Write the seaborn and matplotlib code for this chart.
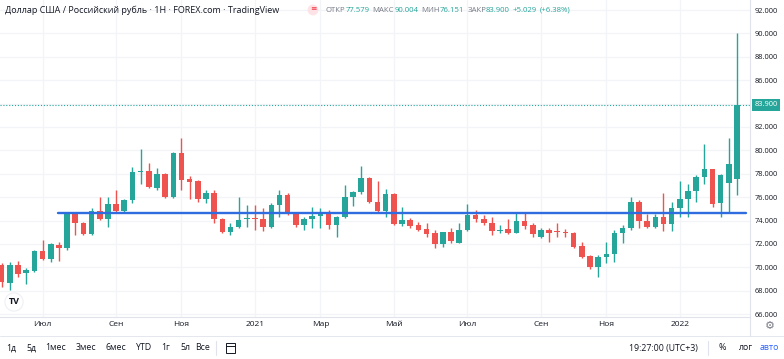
import pandas as pd
import matplotlib
matplotlib.use("Agg")
import matplotlib.pyplot as plt
import matplotlib.transforms as mtransforms
from matplotlib.lines import Line2D
from matplotlib.patches import Rectangle
import seaborn as sns

# === 1. Data: weekly USD/RUB candles (FOREX.com), Jun 2020 - Feb 2022 ===
week_start = pd.date_range("2020-06-01", periods=91, freq="W-MON")

opens = [70.21, 68.67, 70.21, 69.52, 69.69, 71.40, 70.72, 71.92, 71.66, 74.56,
         73.80, 72.86, 74.82, 74.14, 75.42, 74.82, 75.76, 78.15, 78.24, 76.79,
         77.98, 76.02, 79.78, 77.56, 77.39, 75.85, 76.36, 74.14, 73.03, 73.45,
         74.10, 74.18, 74.14, 73.45, 75.33, 76.19, 74.65, 73.62, 74.14, 74.39,
         74.65, 73.62, 74.31, 76.02, 76.45, 77.64, 75.59, 74.82, 76.27, 73.71,
         74.05, 73.62, 73.28, 72.94, 72.00, 73.03, 72.09, 73.20, 74.48, 74.14,
         73.80, 73.15, 73.28, 72.94, 73.97, 73.62, 72.60, 73.20, 73.05, 72.98,
         72.94, 71.83, 70.98, 70.03, 70.89, 71.15, 72.94, 73.37, 75.59, 73.97,
         73.45, 74.31, 73.71, 75.08, 75.85, 76.53, 77.73, 78.41, 75.51, 77.21,
         77.579]
highs = [70.38, 70.46, 70.55, 69.95, 71.45, 72.34, 72.09, 72.17, 74.65, 74.65,
         73.88, 75.08, 76.02, 76.02, 76.62, 75.85, 78.58, 80.12, 78.92, 78.50,
         78.07, 79.85, 81.06, 77.81, 77.47, 76.62, 76.62, 74.20, 73.80, 76.02,
         75.33, 75.33, 75.08, 75.51, 76.62, 76.36, 74.74, 74.31, 75.16, 75.08,
         74.91, 74.39, 77.04, 76.50, 78.67, 77.73, 77.39, 76.70, 76.36, 75.16,
         74.22, 73.88, 73.80, 73.20, 73.05, 73.37, 73.80, 75.42, 74.91, 74.48,
         74.31, 73.62, 74.14, 74.65, 74.65, 73.80, 73.37, 73.37, 73.80, 73.28,
         73.03, 72.17, 71.06, 71.06, 72.17, 73.20, 73.62, 76.02, 75.76, 74.56,
         74.56, 76.36, 75.59, 77.39, 77.13, 77.90, 80.55, 78.45, 77.95, 81.06,
         90.004]
lows = [68.33, 68.07, 69.18, 68.58, 69.61, 70.63, 70.46, 70.55, 71.49, 72.77,
        72.77, 72.77, 74.05, 73.45, 74.74, 74.74, 75.51, 77.13, 76.79, 76.62,
        75.93, 75.95, 76.62, 75.85, 75.59, 75.51, 73.80, 72.94, 72.77, 73.40,
        73.45, 73.20, 73.11, 73.37, 74.31, 74.48, 73.45, 73.20, 73.37, 73.37,
        73.28, 72.60, 74.22, 75.25, 76.27, 75.51, 74.74, 74.31, 73.62, 73.54,
        73.37, 73.11, 72.60, 71.66, 71.74, 72.09, 72.05, 73.11, 73.88, 73.62,
        72.77, 72.94, 72.86, 72.90, 73.28, 72.60, 72.51, 72.17, 72.60, 72.60,
        71.66, 70.80, 69.86, 69.18, 70.38, 70.46, 72.09, 73.20, 73.37, 73.37,
        73.37, 73.11, 73.11, 74.31, 74.31, 75.59, 77.13, 75.16, 74.31, 74.74,
        76.151]
closes = [68.75, 70.21, 69.44, 69.78, 71.40, 70.72, 72.00, 71.66, 74.56, 73.80,
          72.86, 74.82, 74.14, 75.42, 74.82, 75.76, 78.15, 78.24, 76.87, 77.98,
          76.02, 79.78, 77.47, 77.30, 75.85, 76.36, 74.14, 73.03, 73.45, 74.05,
          74.18, 74.12, 73.45, 75.33, 76.19, 74.65, 73.62, 74.14, 74.39, 74.65,
          73.62, 74.31, 76.02, 76.45, 77.64, 75.59, 74.82, 76.27, 73.71, 74.05,
          73.54, 73.20, 72.86, 72.00, 73.03, 72.26, 73.20, 74.48, 74.14, 73.80,
          73.11, 73.22, 72.94, 73.97, 73.54, 72.86, 73.20, 72.94, 73.00, 72.92,
          71.74, 70.89, 70.03, 70.89, 71.15, 72.94, 73.37, 75.59, 73.97, 73.45,
          74.31, 73.71, 75.08, 75.85, 76.53, 77.73, 78.41, 75.42, 77.90, 78.871,
          83.900]

# horizontal support level drawn on the chart
support_level = 74.65
support_from = "2020-07-20"

price_ticks = list(range(66, 93, 2))
month_starts = ["2020-07-06", "2020-09-07", "2020-11-02", "2021-01-04", "2021-03-01",
                "2021-05-03", "2021-07-05", "2021-09-06", "2021-11-01", "2022-01-03"]
month_labels = ["Июл", "Сен", "Ноя", "2021", "Мар", "Май", "Июл", "Сен", "Ноя", "2022"]

title = "Доллар США / Российский рубль · 1Н · FOREX.com · TradingView"
ohlc_names = ["ОТКР", "МАКС", "МИН", "ЗАКР"]
range_buttons = ["1д", "5д", "1мес", "3мес", "6мес", "YTD", "1г", "5л", "Все"]
clock_text = "19:27:00 (UTC+3)"

UP = "#26a69a"
DOWN = "#ef5350"
TEXT = "#131722"
GRAY = "#787b86"
LINE = "#e0e3eb"
GRID = "#f2f4f8"

# === 2. Prepare candle table ===
df = pd.DataFrame({"week": week_start, "open": opens, "high": highs,
                   "low": lows, "close": closes})
df["x"] = range(len(df))
df["color"] = (df["close"] >= df["open"]).map({True: UP, False: DOWN})
df["body_lo"] = df[["open", "close"]].min(axis=1)
df["body_h"] = (df["close"] - df["open"]).abs().clip(lower=0.07)

# === 3. Figure ===
W, H = 784, 359
sns.set_theme(style="white")
plt.rcParams["font.family"] = ["Open Sans", "DejaVu Sans"]

fig = plt.figure(figsize=(W / 100, H / 100), dpi=100)


def fx(px):
    return px / W


def fy(py):
    return 1 - py / H


ax = fig.add_axes([0, fy(317), fx(750), 317 / H])

# wicks + bodies
ax.vlines(df["x"], df["low"], df["high"], colors=df["color"], lw=1, zorder=2)
ax.bar(df["x"], df["body_h"], bottom=df["body_lo"], width=0.68,
       color=df["color"], linewidth=0, zorder=3)

# support line
x0 = df.loc[df["week"] == pd.Timestamp(support_from), "x"].iloc[0] - 0.1
x1 = df["x"].iloc[-1] + 1.07
sns.lineplot(x=[x0, x1], y=[support_level, support_level], ax=ax,
             color="#2f6ce0", lw=1.7, zorder=4, legend=False)

# last price line
last = df["close"].iloc[-1]
ax.axhline(last, color=UP, lw=0.8, ls=(0, (1, 1.6)), zorder=1)

ax.set_xlim(-0.21, 91.59)
ax.set_ylim(65.76, 92.855)

# ticks & grid
month_x = [df.loc[df["week"] == pd.Timestamp(d), "x"].iloc[0] for d in month_starts]
ax.set_xticks(month_x)
ax.set_xticklabels(month_labels)
ax.yaxis.tick_right()
ax.set_yticks(price_ticks)
ax.set_yticklabels(["" if abs(p - last) < 1 else f"{p:.3f}" for p in price_ticks])
ax.tick_params(axis="y", length=0, pad=3.6, labelsize=5.4, labelcolor=TEXT)
ax.tick_params(axis="x", length=0, pad=3.2, labelsize=6, labelcolor=TEXT)
ax.grid(True, color=GRID, lw=0.9, zorder=0)
ax.set_xlabel("")
ax.set_ylabel("")
for s in ["top", "left"]:
    ax.spines[s].set_visible(False)
for s in ["bottom", "right"]:
    ax.spines[s].set_color(LINE)
    ax.spines[s].set_linewidth(0.8)

# last price tag on the price scale
blend = mtransforms.blended_transform_factory(ax.transAxes, ax.transData)
ax.annotate(f"{last:.3f}", xy=(1, last), xycoords=blend, xytext=(3.2, 0),
            textcoords="offset points", ha="left", va="center", fontsize=5.4,
            color="white", annotation_clip=False, zorder=6,
            bbox=dict(boxstyle="square,pad=0.35", fc=UP, ec="none"))

# === 4. Header legend ===
fig.text(fx(5), fy(10), title, fontsize=6.5, color=TEXT, va="center")
fig.text(fx(313), fy(10), "≡", fontsize=5.5, color="#f23645", ha="center", va="center",
         bbox=dict(boxstyle="circle,pad=0.25", fc="#fde3e6", ec="none"))

change = last - df["close"].iloc[-2]
values = [df["open"].iloc[-1], df["high"].iloc[-1], df["low"].iloc[-1], last]
pieces = []
for name, v in zip(ohlc_names, values):
    pieces.append((name, GRAY, 2.2))
    pieces.append((f"{v:.3f}", UP, 0))
pieces.append((f"+{change:.3f}", UP, 2.2))
pieces.append((f"(+{change / df['close'].iloc[-2] * 100:.2f}%)", UP, 2.2))

prev = fig.text(fx(326), fy(10), pieces[0][0], fontsize=5.6, color=pieces[0][1], va="center")
for s, c, gap in pieces[1:]:
    prev = ax.annotate(s, xy=(1, 0.5), xycoords=prev, xytext=(gap, 0),
                       textcoords="offset points", ha="left", va="center",
                       fontsize=5.6, color=c, annotation_clip=False)

# === 5. Bottom toolbar & decorations ===
fig.add_artist(Line2D([0, 1], [fy(336), fy(336)], color=LINE, lw=0.6))
fig.add_artist(Line2D([fx(750), fx(750)], [fy(317), fy(336)], color=LINE, lw=0.8))
fig.text(fx(770), fy(326), "⚙", fontsize=8, color=GRAY, ha="center", va="center",
         family="DejaVu Sans")

button_x = [11, 31, 56, 86, 116, 144, 166, 185, 203]
for bx, b in zip(button_x, range_buttons):
    fig.text(fx(bx), fy(348), b, fontsize=6.3, color=TEXT, ha="center", va="center")
fig.add_artist(Line2D([fx(216), fx(216)], [fy(341), fy(355)], color=LINE, lw=0.8))
fig.add_artist(Rectangle((fx(226), fy(353)), 9 / W, 10 / H, fill=False,
                         ec=TEXT, lw=0.7, transform=fig.transFigure))
fig.add_artist(Line2D([fx(226), fx(235)], [fy(346), fy(346)], color=TEXT, lw=0.7))

fig.text(fx(698), fy(348), clock_text, fontsize=6.3, color=TEXT, ha="right", va="center")
fig.add_artist(Line2D([fx(708), fx(708)], [fy(341), fy(355)], color=LINE, lw=0.8))
fig.text(fx(722), fy(348), "%", fontsize=6.5, color=TEXT, ha="center", va="center")
fig.text(fx(746), fy(348), "лог", fontsize=6.3, color=TEXT, ha="center", va="center")
fig.text(fx(769), fy(348), "авто", fontsize=6.3, color="#2962ff", ha="center", va="center")

# TradingView badge
fig.text(fx(14), fy(302), "TV", fontsize=6.5, fontweight="bold", color=TEXT,
         ha="center", va="center",
         bbox=dict(boxstyle="circle,pad=0.4", fc="white", ec="#eef0f3", lw=0.8))

fig.savefig("out.png", dpi=100)
